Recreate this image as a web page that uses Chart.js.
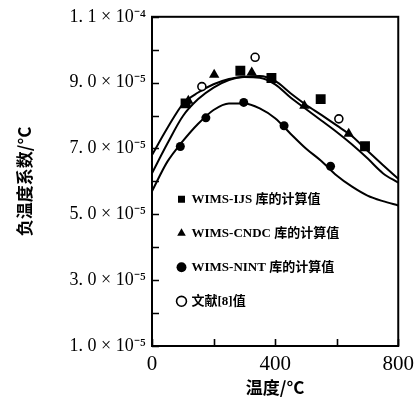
<!DOCTYPE html>
<html><head><meta charset="utf-8">
<script src="https://cdn.jsdelivr.net/npm/chart.js@4.4.0/dist/chart.umd.min.js"></script>
<style>html,body{margin:0;padding:0;background:#fff;}canvas{display:block;}</style>
</head><body>
<canvas id="c" width="420" height="398"></canvas>
<script>
// ---- data ----
const ijsTemps   = [109, 287, 388, 548, 692];
const ijsValues  = [8.37e-5, 9.36e-5, 9.14e-5, 8.5e-5, 7.07e-5];
const cndcTemps  = [118, 202, 324, 495, 639];
const cndcValues = [8.45e-5, 9.24e-5, 9.31e-5, 8.3e-5, 7.45e-5];
const nintTemps  = [92, 175, 298, 429, 580];
const nintValues = [7.06e-5, 7.93e-5, 8.4e-5, 7.69e-5, 6.46e-5];
const refTemps   = [162, 335, 607];
const refValues  = [8.88e-5, 9.77e-5, 7.9e-5];

const curveTemps   = [0, 50, 100, 150, 200, 250, 300, 350, 400, 450, 500, 550, 600, 650, 700, 750, 800];
const curveOuter   = [6.8e-5, 7.62e-5, 8.35e-5, 8.7e-5, 8.95e-5, 9.11e-5, 9.18e-5, 9.2e-5, 9.05e-5, 8.68e-5, 8.33e-5, 8.02e-5, 7.7e-5, 7.37e-5, 6.93e-5, 6.5e-5, 6.08e-5];
const curveInner   = [6.25e-5, 7.15e-5, 7.98e-5, 8.5e-5, 8.85e-5, 9.08e-5, 9.17e-5, 9.15e-5, 8.95e-5, 8.55e-5, 8.2e-5, 7.85e-5, 7.5e-5, 7.12e-5, 6.7e-5, 6.25e-5, 5.96e-5];
const curveLower   = [5.7e-5, 6.6e-5, 7.22e-5, 7.75e-5, 8.17e-5, 8.37e-5, 8.37e-5, 8.22e-5, 7.92e-5, 7.45e-5, 7.0e-5, 6.62e-5, 6.18e-5, 5.84e-5, 5.57e-5, 5.4e-5, 5.27e-5];

const seriesNames = ['WIMS-IJS 库的计算值', 'WIMS-CNDC 库的计算值', 'WIMS-NINT 库的计算值', '文献[8]值'];
const yTickLabels = ['1. 0 × 10⁻⁵', '3. 0 × 10⁻⁵', '5. 0 × 10⁻⁵', '7. 0 × 10⁻⁵', '9. 0 × 10⁻⁵', '1. 1 × 10⁻⁴'];
const xTickLabels = ['0', '', '400', '', '800'];
const xTitle = '温度/°C';
const yTitle = '负温度系数/°C';

// ---- helpers ----
const pt = (xs, ys) => xs.map((x, i) => ({x: x, y: ys[i]}));
const serif = "'Liberation Serif', 'Times New Roman', serif";
const cjk = "'Liberation Serif', 'Noto Sans CJK SC', serif";

const marker = (label, data, style, r, fill, bw) => ({
  label, data, pointStyle: style, pointRadius: r, pointHoverRadius: r,
  backgroundColor: fill, pointBackgroundColor: fill,
  borderColor: '#000', pointBorderColor: '#000',
  borderWidth: bw, pointBorderWidth: bw, showLine: false
});
const curve = (label, ys) => ({
  label, data: pt(curveTemps, ys), showLine: true, pointRadius: 0,
  borderColor: '#000', borderWidth: 2, backgroundColor: '#000',
  cubicInterpolationMode: 'monotone', fill: false
});

const frame = {
  id: 'frame',
  afterLayout(chart) {
    const L = chart.legend, a = chart.chartArea;
    if (!L) return;
    L.left = a.left + 5; L.top = a.top + 155;
    L.right = L.left + 245; L.bottom = L.top + 170;
  },
  afterDraw(chart) {
    const {ctx, chartArea: a, scales: {x, y}} = chart;
    ctx.save();
    ctx.strokeStyle = '#000';
    ctx.lineWidth = 1.6;
    ctx.beginPath();
    y.ticks.forEach((t, i) => {
      const py = Math.round(y.getPixelForTick(i)) + 0.5;
      ctx.moveTo(a.left, py); ctx.lineTo(a.left + 7, py);
    });
    x.ticks.forEach((t, i) => {
      const px = Math.round(x.getPixelForTick(i)) + 0.5;
      ctx.moveTo(px, a.bottom); ctx.lineTo(px, a.bottom - 7);
    });
    ctx.stroke();
    ctx.lineWidth = 2;
    ctx.strokeRect(a.left, a.top, a.right - a.left, a.bottom - a.top);
    ctx.restore();
  }
};

new Chart(document.getElementById('c'), {
  type: 'scatter',
  data: {
    datasets: [
      marker(seriesNames[0], pt(ijsTemps, ijsValues), 'rect', 7, '#000', 0),
      marker(seriesNames[1], pt(cndcTemps, cndcValues), 'triangle', 6, '#000', 0),
      marker(seriesNames[2], pt(nintTemps, nintValues), 'circle', 4.5, '#000', 0),
      marker(seriesNames[3], pt(refTemps, refValues), 'circle', 4, '#fff', 1.6),
      curve('outer', curveOuter),
      curve('inner', curveInner),
      curve('lower', curveLower)
    ]
  },
  options: {
    responsive: false, animation: false, devicePixelRatio: 1,
    layout: {padding: {top: 15, right: 18, left: 0, bottom: 0}},
    plugins: {
      tooltip: {enabled: false},
      legend: {
        position: 'chartArea', align: 'start',
        labels: {
          usePointStyle: true, boxWidth: 7, boxHeight: 7, padding: 21, color: '#000',
          font: {family: cjk, size: 13, weight: 'bold'},
          filter: (item) => item.datasetIndex < 4
        }
      }
    },
    scales: {
      x: {
        type: 'linear', min: 0, max: 800,
        grid: {display: false, drawTicks: false}, border: {display: false},
        afterFit: (s) => { s.height = 52; },
        ticks: {
          stepSize: 200, autoSkip: false, maxRotation: 0, padding: 6, color: '#000',
          font: {family: serif, size: 21},
          callback: (v) => xTickLabels[Math.round(v / 200)] ?? ''
        },
        title: {display: true, text: xTitle, color: '#000', padding: {top: 0, bottom: 0},
          font: {family: "'Noto Sans CJK SC', sans-serif", size: 17, weight: 'bold'}}
      },
      y: {
        type: 'linear', min: 1e-5, max: 1.1e-4,
        grid: {display: false, drawTicks: false}, border: {display: false},
        afterFit: (s) => { s.width = 152; },
        ticks: {
          stepSize: 1e-5, autoSkip: false, padding: 6, color: '#000',
          font: {family: serif, size: 18},
          callback: (v) => { const k = Math.round(v * 1e5); return k % 2 === 1 ? yTickLabels[(k - 1) / 2] : ''; }
        },
        title: {display: true, text: yTitle, color: '#000', padding: {top: 14, bottom: 0},
          font: {family: "'Noto Sans CJK SC', sans-serif", size: 17, weight: 'bold'}}
      }
    }
  },
  plugins: [frame]
});
</script>
</body></html>
